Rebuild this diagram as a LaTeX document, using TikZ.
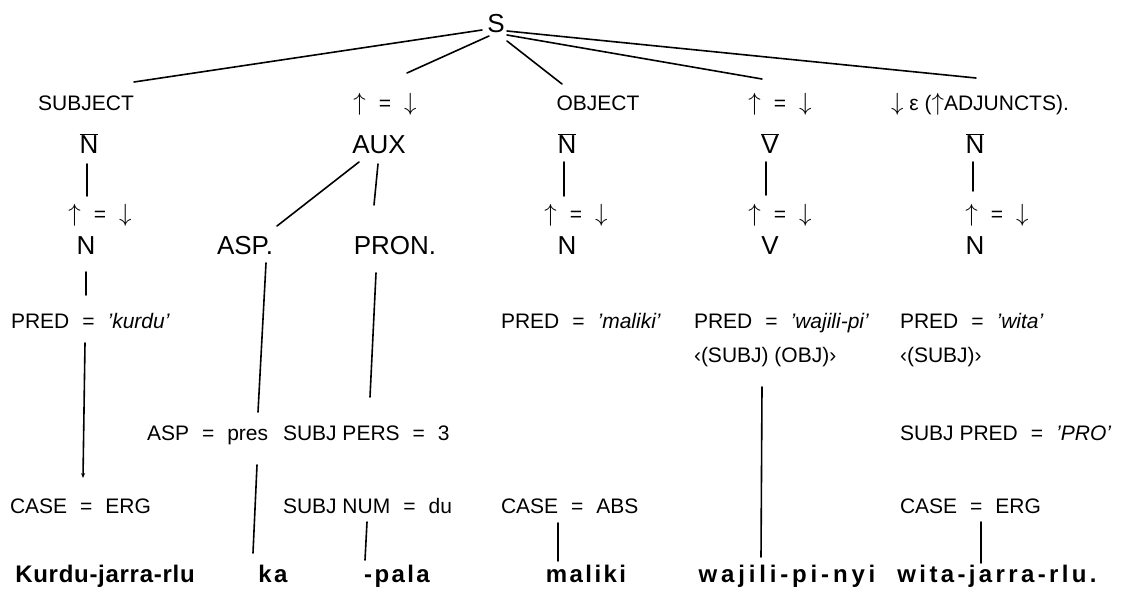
\documentclass[tikz,border=0pt]{standalone}
\usepackage{fontspec}
\setmainfont{Liberation Sans}
\usetikzlibrary{arrows.meta}
\newcommand{\EQ}{\hspace{0.62em}=\hspace{0.62em}}
\newcommand{\LS}[1]{\addfontfeature{LetterSpace=#1}}
\newcommand{\UA}{{\fontsize{24}{24}\selectfont$\uparrow$}}
\newcommand{\DA}{{\fontsize{24}{24}\selectfont$\downarrow$}}
\begin{document}
\begin{tikzpicture}[x=1pt,y=-1pt,
  every node/.style={inner sep=0pt,outer sep=0pt,anchor=base},
  sm/.style={font=\fontsize{21}{24}\selectfont},
  lg/.style={font=\fontsize{26}{30}\selectfont},
  wd/.style={font=\fontsize{24}{28}\selectfont\bfseries},
  lw/.style={anchor=base west},
  ln/.style={line width=1.6pt,line cap=round}]
\useasboundingbox (0,0) rectangle (1123,597);
% top
\node[lg] (S) at (496,32) {S};
\node[sm] (subj) at (86,110) {SUBJECT};
\node[sm] (auxeq) at (385,110) {\UA\EQ\DA};
\node[sm] (obj) at (598,110) {OBJECT};
\node[sm] (veq) at (780,110) {\UA\EQ\DA};
\node[sm] (adj) at (980,110) {\DA{} ε (\UA ADJUNCTS).};
\node[lg] (nb1) at (89,153) {$\overline{\mbox{N}}$};
\node[lg] (aux) at (379,153) {AUX};
\node[lg] (nb2) at (567,153) {$\overline{\mbox{N}}$};
\node[lg] (vb) at (770,153) {$\overline{\mbox{V}}$};
\node[lg] (nb3) at (975,153) {$\overline{\mbox{N}}$};
% second level
\node[sm] (eq1) at (100,221) {\UA\EQ\DA};
\node[sm] (eq2) at (576,221) {\UA\EQ\DA};
\node[sm] (eq3) at (780,221) {\UA\EQ\DA};
\node[sm] (eq4) at (997,221) {\UA\EQ\DA};
\node[lg] (n1) at (86,254) {N};
\node[lg] (asp) at (245,254) {ASP.};
\node[lg] (pron) at (395,254) {PRON.};
\node[lg] (n2) at (567,254) {N};
\node[lg] (v) at (770,254) {V};
\node[lg] (n3) at (975,254) {N};
% features
\node[sm,lw] (pred1) at (11,328) {PRED\EQ\textit{'kurdu'}};
\node[sm,lw] (pred2) at (501,328) {PRED\EQ\textit{'maliki'}};
\node[sm,lw] (pred3) at (694,328) {PRED\EQ\textit{'wajili-pi'}};
\node[sm,lw] (pred4) at (900,328) {PRED\EQ\textit{'wita'}};
\node[sm,lw] (sc3) at (694,362) {‹(SUBJ) (OBJ)›};
\node[sm,lw] (sc4) at (900,362) {‹(SUBJ)›};
\node[sm,lw] (asppres) at (147,440) {ASP\EQ pres};
\node[sm,lw] (subjpers) at (283,440) {SUBJ PERS\EQ 3};
\node[sm,lw] (subjpred) at (900,440) {SUBJ PRED\EQ\textit{'PRO'}};
\node[sm,lw] (case1) at (10,513) {CASE\EQ ERG};
\node[sm,lw] (subjnum) at (283,513) {SUBJ NUM\EQ du};
\node[sm,lw] (case2) at (501,513) {CASE\EQ ABS};
\node[sm,lw] (case3) at (900,513) {CASE\EQ ERG};
% words
\node[wd] (w1) at (105,582) {\LS{3}Kurdu-jarra-rlu};
\node[wd] (w2) at (273,582) {\LS{10}ka};
\node[wd] (w3) at (397,582) {\LS{10}-pala};
\node[wd] (w4) at (586,582) {\LS{10}maliki};
\node[wd] (w5) at (787,582) {\LS{16}wajili-pi-nyi};
\node[wd] (w6) at (997,582) {\LS{14}wita-jarra-rlu.};
% connectors from S
\draw[ln] ([shift={(-14,-2)}]S.base) -- ([shift={(48,-28)}]subj.base);
\draw[ln] ([shift={(-7,4)}]S.base) -- ([shift={(22,-37)}]auxeq.base);
\draw[ln] ([shift={(11,9)}]S.base) -- ([shift={(-36,-26)}]obj.base);
\draw[ln] ([shift={(11,3)}]S.base) -- ([shift={(-18,-31)}]veq.base);
\draw[ln] ([shift={(11,-1)}]S.base) -- ([shift={(-4,-32)}]adj.base);
% vertical connectors
\draw[ln] ([shift={(-2,11)}]nb1.base) -- ([shift={(-13,-25)}]eq1.base);
\draw[ln] ([shift={(-20,9)}]aux.base) -- ([shift={(32,-28)}]asp.base);
\draw[ln] ([shift={(-1,11)}]aux.base) -- ([shift={(-21,-49)}]pron.base);
\draw[ln] ([shift={(-3,9)}]nb2.base) -- ([shift={(-12,-25)}]eq2.base);
\draw[ln] ([shift={(-4,9)}]vb.base) -- ([shift={(-14,-26)}]eq3.base);
\draw[ln] ([shift={(-2,9)}]nb3.base) -- ([shift={(-24,-30)}]eq4.base);
\draw[ln] ([shift={(0,18)}]n1.base) -- ([shift={(75,-33)}]pred1.base west);
\draw[ln,-{Stealth[length=5pt,width=4pt]}] ([shift={(74,15)}]pred1.base west) -- ([shift={(73,-35)}]case1.base west);
\coordinate (aspend) at ([shift={(111,-28)}]asppres.base west);
\coordinate (aspstart) at ([shift={(110,25)}]asppres.base west);
\draw[ln] ([shift={(21,9)}]asp.base) -- (aspend);
\draw[ln] (aspstart) -- ([shift={(-20,-29)}]w2.base);
\draw[ln] ([shift={(-19,19)}]pron.base) -- ([shift={(87,-43)}]subjpers.base west);
\draw[ln] ([shift={(84,9)}]subjnum.base west) -- ([shift={(-32,-22)}]w3.base);
\draw[ln] ([shift={(57,10)}]case2.base west) -- ([shift={(-28,-21)}]w4.base);
\draw[ln] ([shift={(68,25)}]sc3.base west) -- ([shift={(-26,-25)}]w5.base);
\draw[ln] ([shift={(81,9)}]case3.base west) -- ([shift={(-16,-19)}]w6.base);
\end{tikzpicture}
\end{document}
